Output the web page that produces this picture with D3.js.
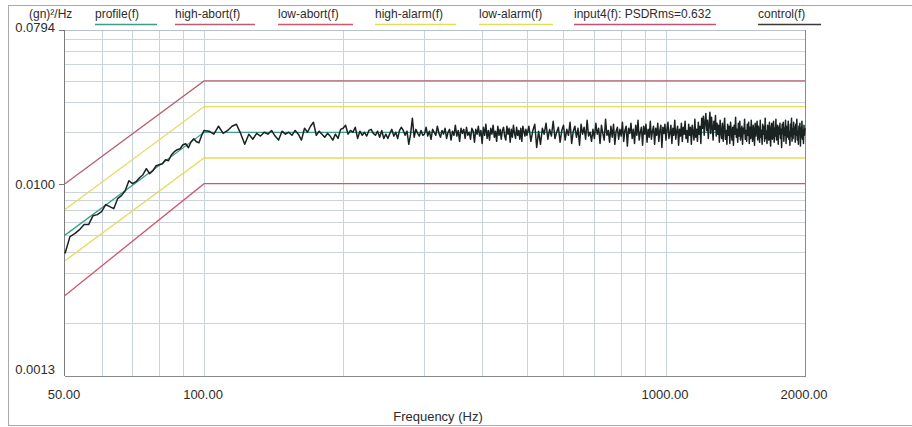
<!DOCTYPE html>
<html>
<head>
<meta charset="utf-8">
<script src="https://cdn.jsdelivr.net/npm/d3@7"></script>
<style>
  body { margin: 0; background: #fff; }
  svg { display: block; font-family: "Liberation Sans", Arial, sans-serif; }
</style>
</head>
<body>
<div class="vis-psd"></div>
<script>
// breakpoints of the reference profile and its limit lines (g²/Hz)
const profileFreq = [50, 100, 2000];
const profileVal = [0.005, 0.02, 0.02];
const highAbortVal = [0.01, 0.04, 0.04];
const lowAbortVal = [0.0025, 0.01, 0.01];
const highAlarmVal = [0.00707, 0.0283, 0.0283];
const lowAlarmVal = [0.00354, 0.01414, 0.01414];

// measured control spectrum, read off the plot
// 50 .. 98.75 Hz, 1.25 Hz lines
const ctrlLow = [
  0.00390, 0.00490, 0.00510, 0.00538, 0.00576, 0.00576, 0.00650, 0.00659, 0.00686, 0.00754,
  0.00734, 0.00714, 0.00817, 0.00851, 0.00910, 0.01041, 0.01000, 0.01027, 0.01084, 0.01129,
  0.01224, 0.01144, 0.01191, 0.01274, 0.01291, 0.01309, 0.01382, 0.01363, 0.01478, 0.01539,
  0.01581, 0.01602, 0.01691, 0.01714, 0.01624, 0.01761, 0.01833, 0.01761, 0.01737, 0.01909
];
// 100 .. 497.5 Hz, 2.5 Hz lines
const ctrlMid = [
  0.0205, 0.0203, 0.0195, 0.0217, 0.0197, 0.0205, 0.0217, 0.0223, 0.0197, 0.0170, 0.0195, 0.0182, 0.0197, 0.0190, 0.0200, 0.0195, 0.0205, 0.0190, 0.0180, 0.0203,
  0.0195, 0.0200, 0.0192, 0.0205, 0.0195, 0.0180, 0.0211, 0.0200, 0.0217, 0.0229, 0.0192, 0.0203, 0.0195, 0.0187, 0.0197, 0.0190, 0.0180, 0.0195, 0.0184, 0.0208,
  0.0211, 0.0220, 0.0195, 0.0205, 0.0200, 0.0214, 0.0184, 0.0203, 0.0192, 0.0200, 0.0190, 0.0205, 0.0208, 0.0197, 0.0192, 0.0203, 0.0187, 0.0205, 0.0184, 0.0195,
  0.0184, 0.0197, 0.0208, 0.0190, 0.0200, 0.0184, 0.0205, 0.0214, 0.0205, 0.0192, 0.0203, 0.0170, 0.0195, 0.0242, 0.0187, 0.0208, 0.0197, 0.0190, 0.0205, 0.0192,
  0.0195, 0.0214, 0.0190, 0.0203, 0.0182, 0.0208, 0.0200, 0.0192, 0.0217, 0.0197, 0.0187, 0.0205, 0.0195, 0.0211, 0.0184, 0.0200, 0.0208, 0.0180, 0.0203, 0.0192,
  0.0220, 0.0190, 0.0205, 0.0177, 0.0211, 0.0197, 0.0208, 0.0184, 0.0214, 0.0192, 0.0200, 0.0182, 0.0211, 0.0203, 0.0175, 0.0208, 0.0195, 0.0217, 0.0190, 0.0205,
  0.0172, 0.0214, 0.0192, 0.0223, 0.0184, 0.0205, 0.0180, 0.0211, 0.0195, 0.0220, 0.0187, 0.0203, 0.0177, 0.0217, 0.0192, 0.0208, 0.0182, 0.0205, 0.0214, 0.0190,
  0.0180, 0.0217, 0.0195, 0.0211, 0.0175, 0.0208, 0.0187, 0.0220, 0.0197, 0.0184, 0.0214, 0.0192, 0.0205, 0.0182, 0.0211, 0.0177, 0.0217, 0.0203, 0.0190, 0.0208
];
// 500 .. 2000 Hz, 5 Hz lines
const ctrlHigh = [
  0.0192, 0.0217, 0.0177, 0.0205, 0.0223, 0.0163, 0.0203, 0.0170, 0.0211, 0.0195, 0.0226, 0.0182, 0.0208, 0.0190, 0.0232, 0.0184, 0.0200, 0.0214, 0.0175, 0.0205,
  0.0220, 0.0180, 0.0208, 0.0192, 0.0229, 0.0172, 0.0203, 0.0217, 0.0187, 0.0211, 0.0168, 0.0223, 0.0195, 0.0214, 0.0182, 0.0235, 0.0190, 0.0200, 0.0177, 0.0208,
  0.0184, 0.0226, 0.0195, 0.0211, 0.0172, 0.0220, 0.0197, 0.0180, 0.0238, 0.0192, 0.0205, 0.0175, 0.0217, 0.0187, 0.0223, 0.0170, 0.0203, 0.0214, 0.0182, 0.0208,
  0.0190, 0.0229, 0.0177, 0.0205, 0.0217, 0.0166, 0.0211, 0.0197, 0.0226, 0.0184, 0.0208, 0.0172, 0.0220, 0.0192, 0.0235, 0.0180, 0.0200, 0.0214, 0.0168, 0.0217,
  0.0195, 0.0223, 0.0175, 0.0208, 0.0187, 0.0232, 0.0182, 0.0203, 0.0217, 0.0170, 0.0211, 0.0192, 0.0226, 0.0177, 0.0205, 0.0220, 0.0163, 0.0214, 0.0197, 0.0223,
  0.0180, 0.0208, 0.0229, 0.0184, 0.0197, 0.0220, 0.0172, 0.0211, 0.0192, 0.0235, 0.0182, 0.0203, 0.0217, 0.0168, 0.0208, 0.0190, 0.0226, 0.0177, 0.0214, 0.0195,
  0.0232, 0.0184, 0.0205, 0.0175, 0.0223, 0.0192, 0.0214, 0.0170, 0.0220, 0.0200, 0.0180, 0.0238, 0.0187, 0.0208, 0.0177, 0.0229, 0.0195, 0.0217, 0.0172, 0.0242,
  0.0211, 0.0248, 0.0192, 0.0229, 0.0258, 0.0205, 0.0235, 0.0184, 0.0223, 0.0262, 0.0197, 0.0245, 0.0214, 0.0180, 0.0232, 0.0208, 0.0251, 0.0190, 0.0226, 0.0195,
  0.0220, 0.0175, 0.0235, 0.0200, 0.0184, 0.0226, 0.0177, 0.0211, 0.0242, 0.0182, 0.0205, 0.0170, 0.0223, 0.0192, 0.0217, 0.0172, 0.0229, 0.0203, 0.0180, 0.0214,
  0.0168, 0.0220, 0.0195, 0.0245, 0.0187, 0.0208, 0.0175, 0.0226, 0.0190, 0.0232, 0.0180, 0.0203, 0.0217, 0.0170, 0.0211, 0.0197, 0.0238, 0.0182, 0.0205, 0.0177,
  0.0223, 0.0192, 0.0229, 0.0172, 0.0214, 0.0184, 0.0235, 0.0195, 0.0177, 0.0220, 0.0200, 0.0168, 0.0226, 0.0190, 0.0208, 0.0232, 0.0180, 0.0217, 0.0197, 0.0175,
  0.0235, 0.0187, 0.0205, 0.0170, 0.0223, 0.0195, 0.0217, 0.0177, 0.0242, 0.0184, 0.0203, 0.0172, 0.0220, 0.0208, 0.0180, 0.0229, 0.0192, 0.0166, 0.0214, 0.0226,
  0.0182, 0.0205, 0.0232, 0.0175, 0.0211, 0.0190, 0.0238, 0.0180, 0.0200, 0.0220, 0.0170, 0.0214, 0.0195, 0.0226, 0.0184, 0.0208, 0.0163, 0.0223, 0.0197, 0.0229,
  0.0177, 0.0211, 0.0192, 0.0235, 0.0172, 0.0217, 0.0187, 0.0205, 0.0232, 0.0182, 0.0200, 0.0168, 0.0223, 0.0190, 0.0242, 0.0177, 0.0208, 0.0184, 0.0229, 0.0195,
  0.0214, 0.0175, 0.0223, 0.0192, 0.0238, 0.0180, 0.0203, 0.0170, 0.0217, 0.0197, 0.0226, 0.0166, 0.0211, 0.0187, 0.0232, 0.0182, 0.0205, 0.0172, 0.0220, 0.0192,
  0.0211
];

// axis texts
const yTickVals = [0.0794, 0.01, 0.0013];
const yTickLabels = ["0.0794", "0.0100", "0.0013"];
const xTickVals = [50, 100, 1000, 2000];
const xTickLabels = ["50.00", "100.00", "1000.00", "2000.00"];
const xGrid = [60, 70, 80, 90, 100, 200, 300, 400, 500, 600, 700, 800, 900, 1000];
// 0.01 line is covered by the low-abort limit
const yGrid = [0.002, 0.003, 0.004, 0.005, 0.006, 0.007, 0.008, 0.009, 0.02, 0.03, 0.04, 0.05, 0.06, 0.07];

const legendNames = ["profile(f)", "high-abort(f)", "low-abort(f)", "high-alarm(f)", "low-alarm(f)", "input4(f): PSDRms=0.632", "control(f)"];
const legendColors = ["#3f9c8c", "#b7606e", "#d0566a", "#e4dc5c", "#e4dc5c", "#bf5277", "#3a3a3a"];

const W = 912, H = 427;
const margin = { top: 30, right: 107, bottom: 51, left: 65 };

const svg = d3.select(".vis-psd").append("svg").attr("width", W).attr("height", H);

// scanned print frame
svg.append("rect")
  .attr("x", 8.5).attr("y", 5.5).attr("width", 920).attr("height", 420)
  .attr("fill", "none").attr("stroke", "#aaa").attr("stroke-width", 1);

const x = d3.scaleLog().domain([50, 2000]).range([margin.left, W - margin.right]);
// the printed y axis is not a clean log: lower part is stretched
const y = d3.scaleLog().domain([0.0794, 0.003, 0.0013]).range([margin.top, 273, H - margin.bottom]);

const x0 = x(50), x1 = x(2000), yTop = y(0.0794), yBot = y(0.0013);

// grid
svg.append("g").selectAll("line").data(xGrid).join("line")
  .attr("x1", d => Math.round(x(d)) + 0.5).attr("x2", d => Math.round(x(d)) + 0.5)
  .attr("y1", yTop).attr("y2", yBot)
  .attr("stroke", "#c6d3dd").attr("stroke-width", 1);
svg.append("g").selectAll("line").data(yGrid).join("line")
  .attr("x1", x0).attr("x2", x1)
  .attr("y1", d => Math.round(y(d)) + 0.5).attr("y2", d => Math.round(y(d)) + 0.5)
  .attr("stroke", "#ccd3da").attr("stroke-width", 1);

// frame of the plot
svg.append("line").attr("x1", x0).attr("x2", x1).attr("y1", yTop + 0.5).attr("y2", yTop + 0.5).attr("stroke", "#b8c2cc");
svg.append("line").attr("x1", x1 + 0.5).attr("x2", x1 + 0.5).attr("y1", yTop).attr("y2", yBot).attr("stroke", "#8a8a8a");
svg.append("line").attr("x1", x0 - 0.5).attr("x2", x0 - 0.5).attr("y1", yTop).attr("y2", yBot).attr("stroke", "#7c7c7c");
svg.append("line").attr("x1", x0).attr("x2", x1 + 1).attr("y1", yBot + 0.5).attr("y2", yBot + 0.5).attr("stroke", "#8a8a8a");

// y ticks and labels
svg.append("g").selectAll("line").data(yTickVals.slice(0, 2)).join("line")
  .attr("x1", x0 - 6).attr("x2", x0)
  .attr("y1", d => Math.round(y(d)) + 0.5).attr("y2", d => Math.round(y(d)) + 0.5)
  .attr("stroke", "#777");
svg.append("g").selectAll("text").data(yTickVals).join("text")
  .attr("x", 55)
  .attr("y", (d, i) => y(d) + (i === 0 ? 2 : i === 2 ? -2 : 5))
  .attr("text-anchor", "end").attr("font-size", 13).attr("fill", "#2c2c2c")
  .text((d, i) => yTickLabels[i]);

// x labels
svg.append("g").selectAll("text").data(xTickVals).join("text")
  .attr("x", d => x(d) - 1).attr("y", 399)
  .attr("text-anchor", "middle").attr("font-size", 13).attr("fill", "#2c2c2c")
  .text((d, i) => xTickLabels[i]);

svg.append("text")
  .attr("x", (x0 + x1) / 2 + 3).attr("y", 421)
  .attr("text-anchor", "middle").attr("font-size", 13).attr("fill", "#2c2c2c")
  .text("Frequency (Hz)");

// limit lines and profile
const line = d3.line().x(d => x(d[0])).y(d => y(d[1]));
const limits = [
  { vals: highAbortVal, color: legendColors[1] },
  { vals: lowAbortVal, color: legendColors[2] },
  { vals: highAlarmVal, color: legendColors[3] },
  { vals: lowAlarmVal, color: legendColors[4] },
  { vals: profileVal, color: legendColors[0] }
];
svg.append("g").selectAll("path").data(limits).join("path")
  .attr("d", d => line(d3.zip(profileFreq, d.vals)))
  .attr("fill", "none").attr("stroke", d => d.color).attr("stroke-width", 1.3);

// control spectrum
const ctrlFreq = d3.range(50, 100, 1.25).concat(d3.range(100, 500, 2.5), d3.range(500, 2000.01, 5));
const ctrlVal = ctrlLow.concat(ctrlMid, ctrlHigh);
svg.append("path")
  .attr("d", line(d3.zip(ctrlFreq, ctrlVal)))
  .attr("fill", "none").attr("stroke", "#1a2222").attr("stroke-width", 1.5)
  .attr("stroke-linejoin", "round");

// legend row
svg.append("text").attr("x", 29).attr("y", 18).attr("font-size", 12).attr("fill", "#2c2c2c").text("(gn)²/Hz");
const legendX = [95, 175, 278, 375, 479, 574, 758];
const legendLineW = [62, 80, 75, 81, 74, 142, 63];
const leg = svg.append("g").selectAll("g").data(legendNames).join("g")
  .attr("transform", (d, i) => `translate(${legendX[i]},0)`);
leg.append("text").attr("y", 18).attr("font-size", 12).attr("fill", "#2c2c2c").text(d => d);
leg.append("line")
  .attr("x1", 0).attr("x2", (d, i) => legendLineW[i])
  .attr("y1", 24.5).attr("y2", 24.5)
  .attr("stroke", (d, i) => legendColors[i]).attr("stroke-width", 1.3);
</script>
</body>
</html>
